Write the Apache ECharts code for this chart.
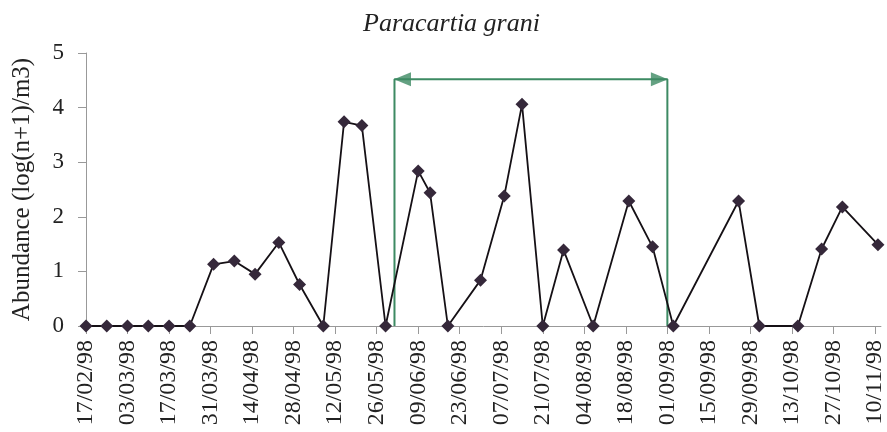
<!DOCTYPE html>
<html>
<head>
<meta charset="utf-8">
<script src="https://cdn.jsdelivr.net/npm/echarts@6/dist/echarts.min.js"></script>
<style>html,body{margin:0;padding:0;background:#fff;}#c{width:887px;height:432px;}</style>
</head>
<body>
<div id="c"></div>
<script>
// Sampling dates and abundance values (log(n+1)/m3)
const sampleDates = ['17/02/98','24/02/98','03/03/98','10/03/98','17/03/98','24/03/98','01/04/98','08/04/98','15/04/98','23/04/98','30/04/98','08/05/98','15/05/98','21/05/98','29/05/98','09/06/98','13/06/98','19/06/98','30/06/98','08/07/98','14/07/98','21/07/98','28/07/98','07/08/98','19/08/98','27/08/98','03/09/98','25/09/98','02/10/98','15/10/98','23/10/98','30/10/98','11/11/98'];
const abundance = [0,0,0,0,0,0,1.13,1.19,0.95,1.53,0.76,0,3.74,3.67,0,2.84,2.44,0,0.84,2.38,4.06,0,1.39,0,2.29,1.45,0,2.29,0,0,1.41,2.18,1.49];
const xTickLabels = ['17/02/98','03/03/98','17/03/98','31/03/98','14/04/98','28/04/98','12/05/98','26/05/98','09/06/98','23/06/98','07/07/98','21/07/98','04/08/98','18/08/98','01/09/98','15/09/98','29/09/98','13/10/98','27/10/98','10/11/98'];
const yTicks = [0,1,2,3,4,5];
// Annotated period (green bracket)
const periodDates = ['01/06/98','01/09/98'];
const periodLevel = 4.52;
const axisEndDate = '12/11/98';

function toDay(s){
  const p = s.split('/');
  const t = Date.UTC(1900 + (+p[2]), +p[1]-1, +p[0]);
  const t0 = Date.UTC(1998, 1, 17);
  return Math.round((t - t0) / 86400000);
}
const seriesData = sampleDates.map((d,i)=>[toDay(d), abundance[i]]);
const p0 = toDay(periodDates[0]), p1 = toDay(periodDates[1]);
const green = '#3d8a63';
const serif = 'Liberation Serif';

const chart = echarts.init(document.getElementById('c'), null, {renderer:'canvas'});
chart.setOption({
  animation:false,
  backgroundColor:'#fff',
  title:{text:'Paracartia grani', left:358, top:6,
    textStyle:{fontFamily:serif, fontStyle:'italic', fontWeight:'normal', fontSize:26, color:'#222'}},
  grid:{left:86, right:5, top:53, bottom:106, containLabel:false},
  xAxis:{type:'value', min:0, max:toDay(axisEndDate), interval:14,
    axisLine:{lineStyle:{color:'#999', width:1}},
    axisTick:{show:true, inside:false, length:8, lineStyle:{color:'#999'}},
    splitLine:{show:false},
    axisLabel:{rotate:90, margin:14, fontFamily:serif, fontSize:24, color:'#222',
      showMaxLabel:false,
      formatter:v => (v % 14 === 0 && xTickLabels[v/14]) ? xTickLabels[v/14] : ''}},
  yAxis:{type:'value', min:yTicks[0], max:yTicks[yTicks.length-1], interval:1,
    name:'Abundance (log(n+1)/m3)', nameLocation:'middle', nameGap:51,
    nameTextStyle:{fontFamily:serif, fontSize:25, color:'#222'},
    axisLine:{show:true, lineStyle:{color:'#999', width:1}},
    axisTick:{show:true, inside:false, length:8, lineStyle:{color:'#999'}},
    splitLine:{show:false},
    axisLabel:{margin:22, fontFamily:serif, fontSize:23, color:'#222'}},
  series:[
    {type:'line', silent:true, symbol:'none', z:1,
      data:[[p0,0],[p0,periodLevel],[p1,periodLevel],[p1,0]],
      lineStyle:{color:green, width:2}},
    {type:'scatter', silent:true, z:1, symbol:'triangle', symbolSize:[14,17],
      itemStyle:{color:green},
      data:[{value:[p0,periodLevel], symbolRotate:90, symbolOffset:[8,0]},
            {value:[p1,periodLevel], symbolRotate:-90, symbolOffset:[-8,0]}]},
    {type:'line', z:3, data:seriesData, symbol:'diamond', symbolSize:13,
      itemStyle:{color:'#35283a'}, lineStyle:{color:'#151015', width:1.8}}
  ]
});
</script>
</body>
</html>
